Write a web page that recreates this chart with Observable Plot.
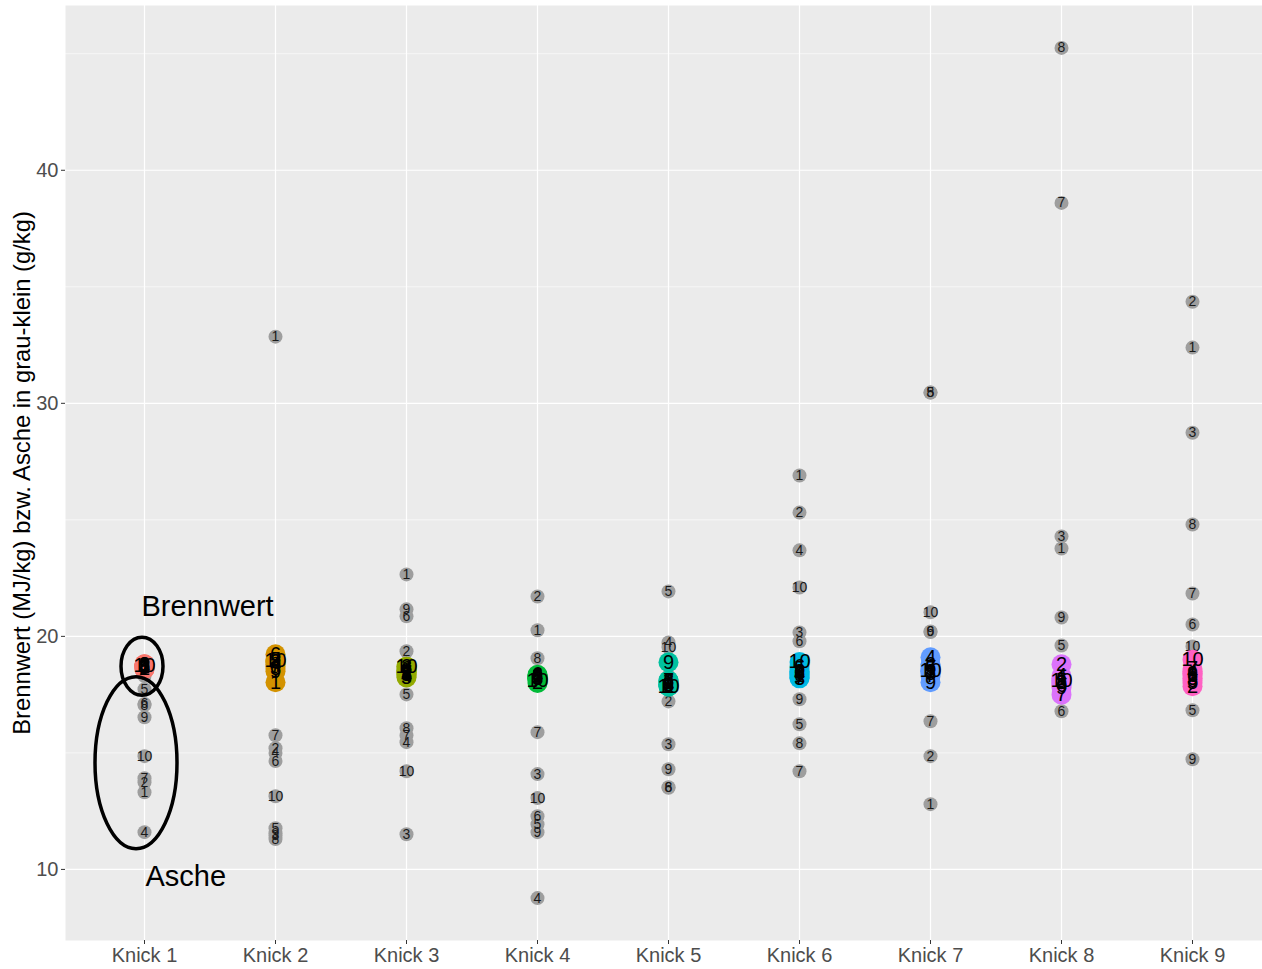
<!DOCTYPE html>
<html>
<head>
<meta charset="utf-8">
<script src="https://cdn.jsdelivr.net/npm/d3@7"></script>
<script src="https://cdn.jsdelivr.net/npm/@observablehq/plot@0.6"></script>
<style>
  body { margin: 0; background: #ffffff; }
  #chart { width: 1262px; height: 969px; }
</style>
</head>
<body>
<div id="chart"></div>
<script>
// Kategorien (Knicks) und Probennummern
const knicks = ["Knick 1", "Knick 2", "Knick 3", "Knick 4", "Knick 5", "Knick 6", "Knick 7", "Knick 8", "Knick 9"];
const probeIds = [1, 2, 3, 4, 5, 6, 7, 8, 9, 10];

// Asche (g/kg) je Knick, Proben 1..10
const ascheWerte = [
  [13.31, 13.74, 18.30, 11.60, 17.73, 17.10, 13.91, 17.05, 16.53, 14.86],
  [32.86, 15.20, 11.45, 15.00, 11.77, 14.65, 15.76, 11.30, 11.55, 13.14],
  [22.66, 19.36, 11.51, 15.46, 17.51, 20.86, 15.75, 16.06, 21.16, 14.21],
  [20.26, 21.71, 14.09, 8.77, 11.94, 12.28, 15.89, 19.06, 11.60, 13.06],
  [18.90, 17.21, 15.37, 19.74, 21.93, 13.53, 18.30, 13.50, 14.30, 19.53],
  [26.90, 25.31, 20.17, 23.69, 16.23, 19.79, 14.21, 15.41, 17.30, 22.10],
  [12.80, 14.86, 18.80, 18.40, 30.46, 20.21, 16.36, 30.46, 20.19, 21.03],
  [23.77, 17.39, 24.29, 18.30, 19.61, 16.79, 38.60, 45.25, 20.81, 18.00],
  [32.39, 34.36, 28.74, 18.30, 16.83, 20.51, 21.84, 24.80, 14.73, 19.57]
];

// Brennwert (MJ/kg) je Knick, Proben 1..10
const brennwertWerte = [
  [18.70, 18.60, 18.80, 18.70, 18.65, 18.75, 18.60, 18.70, 18.80, 18.75],
  [18.03, 18.90, 18.60, 18.80, 19.00, 19.23, 18.70, 18.90, 18.50, 18.95],
  [18.50, 18.70, 18.40, 18.30, 18.24, 18.60, 18.45, 18.35, 18.55, 18.70],
  [18.30, 18.00, 18.20, 18.30, 18.25, 18.35, 18.15, 18.30, 18.20, 18.10],
  [18.00, 17.85, 18.10, 17.95, 17.90, 18.05, 18.10, 17.95, 18.89, 17.85],
  [18.30, 18.50, 18.20, 18.40, 18.60, 18.70, 18.25, 18.45, 18.35, 18.90],
  [18.50, 18.80, 18.40, 19.10, 18.60, 18.70, 18.30, 18.50, 18.03, 18.55],
  [18.20, 18.80, 18.00, 18.30, 18.10, 17.90, 17.50, 18.00, 17.80, 18.10],
  [18.40, 17.86, 18.20, 18.50, 18.00, 18.30, 18.60, 18.10, 18.40, 19.00]
];

// Farben je Knick
const farben = ["#F8766D", "#D39200", "#93AA00", "#00BA38", "#00C19F", "#00B9E3", "#619CFF", "#DB72FB", "#FF61C3"];

// Achsenticks und Nebengitter
const yTicks = [10, 20, 30, 40];
const yMinor = [15, 25, 35, 45];

const yTitel = "Brennwert (MJ/kg) bzw. Asche in grau-klein (g/kg)";

// Lange Tabellen für die Marks
const ascheDaten = knicks.flatMap((k, i) => probeIds.map((id, j) => ({knick: k, id, wert: ascheWerte[i][j]})));
const brennDaten = knicks.flatMap((k, i) => probeIds.map((id, j) => ({knick: k, id, wert: brennwertWerte[i][j]})));

const plot = Plot.plot({
  width: 1262,
  height: 969,
  marginLeft: 65,
  marginRight: 0,
  marginTop: 5,
  marginBottom: 29,
  style: {fontFamily: "'Liberation Sans', Arial, sans-serif", background: "#ffffff", overflow: "visible"},
  // das Panel reicht rechts etwas über den sichtbaren Rand hinaus
  x: {type: "point", domain: knicks, padding: 0.6, range: [64.3, 1270.7], label: null},
  y: {domain: [6.95, 47.07], label: null},
  color: {type: "ordinal", domain: knicks, range: farben},
  marks: [
    Plot.frame({fill: "#EBEBEB", stroke: "none"}),
    Plot.ruleY(yMinor, {stroke: "#ffffff", strokeWidth: 0.6}),
    Plot.ruleY(yTicks, {stroke: "#ffffff", strokeWidth: 1.2}),
    Plot.ruleX(knicks, {stroke: "#ffffff", strokeWidth: 1.2}),
    Plot.axisY(yTicks, {tickSize: 4, tickPadding: 3, fontSize: 20, fill: "#4D4D4D", stroke: "#333333", label: null}),
    Plot.axisX({tickSize: 4, tickPadding: 3, fontSize: 20, fill: "#4D4D4D", stroke: "#333333", label: null}),
    Plot.text([yTitel], {frameAnchor: "left", textAnchor: "middle", rotate: -90, dx: -43, fontSize: 23.8, fill: "#000000"}),
    // Asche: graue Punkte mit Probennummer
    Plot.dot(ascheDaten, {x: "knick", y: "wert", r: 7, fill: "#9E9E9E", stroke: "none"}),
    Plot.text(ascheDaten, {x: "knick", y: "wert", text: "id", fontSize: 14, fill: "#1a1a1a"}),
    // Brennwert: farbige Punkte mit Probennummer
    Plot.dot(brennDaten, {x: "knick", y: "wert", r: 10, fill: "knick", stroke: "none"}),
    Plot.text(brennDaten, {x: "knick", y: "wert", text: "id", fontSize: 20, fill: "#000000"}),
    // Beschriftungen
    Plot.text([{k: "Knick 1", v: 21.28, t: "Brennwert"}], {x: "k", y: "v", text: "t", textAnchor: "start", dx: -3, fontSize: 29, fill: "#000000"}),
    Plot.text([{k: "Knick 1", v: 9.7, t: "Asche"}], {x: "k", y: "v", text: "t", textAnchor: "start", dx: 1, fontSize: 29, fill: "#000000"})
  ]
});

// Ellipsen um die Brennwert- und Asche-Gruppe von Knick 1
const xs = plot.scale("x");
const ys = plot.scale("y");
const cx = xs.apply("Knick 1");
const g = d3.select(plot).append("g").attr("fill", "none").attr("stroke", "#000000").attr("stroke-width", 3.5);
g.append("ellipse").attr("cx", cx - 2).attr("cy", ys.apply(18.7)).attr("rx", 21).attr("ry", 29);
g.append("ellipse").attr("cx", cx - 8).attr("cy", ys.apply(14.56)).attr("rx", 41).attr("ry", 86);

document.getElementById("chart").appendChild(plot);
</script>
</body>
</html>
